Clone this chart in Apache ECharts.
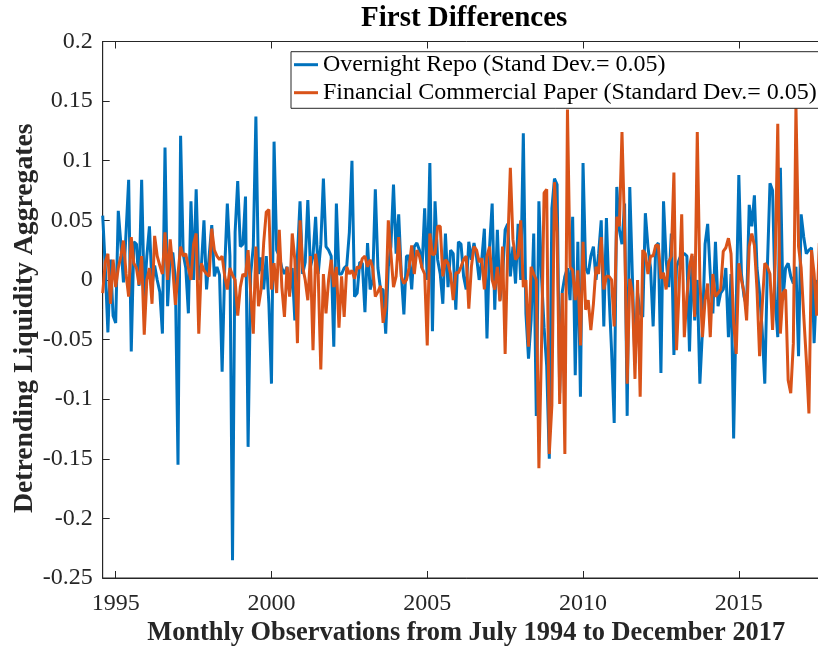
<!DOCTYPE html>
<html><head><meta charset="utf-8">
<script src="https://cdn.jsdelivr.net/npm/echarts@6/dist/echarts.min.js"></script>
<style>html,body{margin:0;padding:0;background:#fff;overflow:hidden;width:818px;height:649px}#c{width:832px;height:649px}</style>
</head><body><div id="c"></div><script>
// Monthly first differences, Aug 1994 .. Dec 2017
const startYear = 1994, startMonth = 8;
const endYear = 2017, endMonth = 12;
const xTickLabels = ['1995', '2000', '2005', '2010', '2015'];
const yTicks = [-0.25, -0.2, -0.15, -0.1, -0.05, 0, 0.05, 0.1, 0.15, 0.2];
const seriesNames = ['Overnight Repo (Stand Dev.= 0.05)', 'Financial Commercial Paper (Standard Dev.= 0.05)'];

const repo = [
 0.054, 0.010, -0.044, 0.017, -0.030, -0.036, 0.058, 0.030, -0.002, 0.040,
 0.084, -0.060, 0.032, 0.030, -0.005, 0.084, -0.014, 0.020, 0.045, -0.005,
 0.012, 0.000, -0.010, -0.045, 0.111, -0.022, 0.020, 0.023, 0.000, -0.155,
 0.121, 0.022, 0.010, -0.028, 0.066, 0.000, 0.076, 0.000, 0.011, 0.050,
 -0.008, 0.020, 0.046, 0.003, 0.011, 0.004, -0.077, 0.010, 0.064, 0.020,
 -0.235, 0.040, 0.083, 0.028, 0.030, 0.070, -0.140, 0.005, 0.028, 0.137,
 0.005, 0.019, -0.008, 0.020, -0.020, -0.087, 0.116, 0.025, 0.020, 0.010,
 0.005, 0.011, -0.011, 0.010, -0.034, 0.020, 0.066, 0.005, 0.015, 0.067,
 0.011, 0.020, 0.053, 0.005, 0.030, 0.085, 0.028, 0.025, 0.020, -0.056,
 0.064, 0.005, 0.005, 0.010, 0.012, 0.040, 0.100, -0.014, -0.011, 0.015,
 0.014, -0.027, 0.031, -0.008, 0.000, 0.076, 0.010, -0.008, -0.008, -0.045,
 0.011, 0.028, 0.080, 0.022, 0.055, 0.005, -0.029, 0.020, 0.020, -0.008,
 0.028, 0.031, 0.025, 0.010, 0.060, 0.000, 0.098, -0.043, 0.066, 0.017,
 0.005, -0.020, 0.039, -0.006, 0.025, 0.022, -0.025, 0.032, 0.030, 0.003,
 -0.008, 0.032, 0.017, 0.031, 0.019, 0.000, 0.017, 0.043, -0.049, 0.028,
 0.064, -0.025, 0.042, -0.017, 0.003, 0.042, 0.047, 0.003, 0.028, -0.003,
 0.047, 0.000, 0.123, -0.028, -0.066, -0.034, 0.039, -0.114, 0.066, 0.003,
 -0.040, -0.072, -0.150, 0.060, 0.085, 0.080, -0.095, -0.010, 0.003, 0.010,
 -0.017, 0.053, -0.080, 0.032, -0.098, 0.098, 0.010, 0.005, 0.020, 0.028,
 0.000, 0.022, 0.050, -0.039, 0.052, -0.011, -0.060, -0.120, 0.078, 0.042,
 0.030, 0.064, -0.114, 0.078, 0.003, -0.070, -0.011, -0.028, -0.031, 0.056,
 0.028, 0.010, -0.039, 0.028, 0.031, -0.078, 0.066, 0.017, -0.006, 0.039,
 -0.063, 0.011, 0.017, 0.022, 0.022, 0.020, -0.060, 0.020, -0.034, 0.000,
 -0.087, -0.042, 0.030, 0.047, 0.005, -0.028, 0.032, -0.022, -0.011, -0.008,
 0.010, -0.048, 0.005, -0.133, -0.022, 0.088, 0.005, -0.014, -0.022, 0.063,
 0.045, 0.071, 0.010, -0.011, -0.042, -0.087, 0.011, 0.081, 0.075, -0.017,
 -0.048, 0.094, -0.017, 0.010, 0.014, 0.003, -0.003, 0.011, -0.064, 0.055,
 0.036, 0.022, 0.025, 0.027, -0.053, 0.000, -0.030, 0.045, -0.020, 0.015, -0.010
];

const fcp = [
 -0.011, 0.015, 0.022, -0.020, 0.017, -0.006, 0.010, 0.020, 0.033, 0.005,
 -0.014, 0.036, 0.014, 0.010, -0.004, 0.020, -0.046, 0.000, 0.010, -0.020,
 0.037, 0.020, 0.012, 0.005, 0.040, 0.000, 0.034, 0.010, -0.021, 0.005,
 0.028, 0.020, 0.022, 0.010, 0.000, 0.030, 0.039, -0.045, 0.014, 0.008,
 0.005, 0.003, 0.043, 0.025, 0.020, 0.017, 0.020, 0.003, -0.008, 0.010,
 0.004, 0.000, -0.030, -0.006, 0.005, 0.003, 0.025, -0.011, -0.045, 0.028,
 -0.022, -0.008, 0.031, 0.057, 0.059, -0.008, 0.014, -0.011, 0.042, -0.006,
 -0.031, 0.011, -0.014, 0.039, 0.017, -0.053, 0.050, 0.011, 0.000, -0.017,
 0.020, -0.059, 0.022, 0.005, -0.075, 0.005, -0.028, 0.000, 0.017, -0.006,
 0.011, -0.040, 0.003, -0.031, 0.011, 0.005, 0.008, 0.001, 0.011, 0.010,
 0.018, 0.020, 0.011, 0.017, 0.010, -0.014, -0.010, -0.005, -0.036, -0.022,
 0.050, 0.022, -0.006, 0.003, 0.036, 0.003, -0.003, 0.000, 0.010, 0.029,
 0.005, 0.025, 0.020, 0.010, 0.005, -0.055, 0.039, 0.021, 0.022, 0.045,
 0.045, 0.003, 0.017, 0.014, 0.005, -0.017, 0.006, 0.006, 0.011, 0.017,
 0.020, -0.024, 0.011, 0.028, 0.025, 0.015, 0.018, -0.008, 0.020, 0.028,
 0.000, -0.008, 0.011, -0.018, 0.028, -0.062, 0.028, 0.094, 0.034, 0.017,
 0.020, 0.050, -0.006, 0.000, -0.056, 0.011, 0.005, 0.000, -0.158, -0.056,
 0.073, 0.076, -0.146, -0.105, 0.082, 0.040, -0.104, -0.011, -0.146, 0.143,
 0.011, 0.008, -0.017, 0.008, -0.055, 0.032, -0.025, -0.017, -0.042, -0.020,
 0.011, 0.005, 0.036, -0.008, 0.003, 0.003, 0.000, -0.039, 0.053, 0.045,
 0.124, 0.043, -0.087, 0.001, -0.011, -0.083, 0.000, -0.098, 0.025, 0.022,
 0.005, 0.020, 0.020, 0.029, 0.029, 0.001, 0.006, -0.008, 0.015, 0.020,
 0.090, -0.059, -0.008, 0.055, -0.048, -0.014, 0.011, 0.022, -0.031, 0.124,
 0.000, -0.048, -0.017, -0.003, -0.048, 0.005, -0.014, -0.011, -0.008, 0.024,
 0.027, 0.035, 0.022, -0.036, -0.062, 0.014, 0.000, -0.010, -0.034, 0.028,
 0.039, 0.029, -0.008, -0.064, -0.022, 0.014, 0.011, 0.005, -0.042, 0.014,
 0.131, -0.045, -0.011, -0.008, -0.084, -0.095, -0.053, 0.146, 0.028, 0.010,
 -0.030, -0.067, -0.112, 0.025, 0.005, -0.030, 0.031, -0.010, 0.020, -0.005, 0.010
];

const monthTime = i => startYear + (startMonth - 1 + i) / 12;
const toPoints = arr => arr.map((v, i) => [monthTime(i), v]);
const xMin = startYear + (startMonth - 1) / 12;
const xMax = endYear + (endMonth - 1) / 12;

const FONT = "'Liberation Serif', 'Times New Roman', serif";
const AX = '#262626';

const chart = echarts.init(document.getElementById('c'), null, { renderer: 'canvas' });
chart.setOption({
  animation: false,
  backgroundColor: '#ffffff',
  title: {
    text: 'First Differences',
    left: 361, top: 4, padding: 0,
    textStyle: { fontFamily: FONT, fontSize: 29, fontWeight: 'bold', color: '#000' }
  },
  legend: {
    orient: 'vertical',
    left: 291, top: 51.7,
    padding: [0, 4, 2.6, 3],
    itemGap: 2,
    itemWidth: 24, itemHeight: 3,
    itemTextGap: 2,
    icon: 'rect',
    backgroundColor: '#ffffff',
    borderColor: AX, borderWidth: 1,
    textStyle: { fontFamily: FONT, fontSize: 24, color: '#000', lineHeight: 26 },
    data: seriesNames
  },
  grid: { show: true, borderColor: AX, borderWidth: 1, backgroundColor: 'transparent',
    left: 102.7, top: 41.5, width: 727, height: 536.5, containLabel: false, outerBoundsMode: 'none' },
  xAxis: [{
    type: 'value', position: 'bottom', min: xMin, max: xMax,
    axisLine: { show: true, onZero: false, lineStyle: { color: AX, width: 1 } },
    axisTick: { show: true, inside: true, length: 7, lineStyle: { color: AX } },
    axisLabel: {
      show: true, margin: 14, fontFamily: FONT, fontSize: 24, color: AX,
      formatter: v => {
        const r = Math.round(v);
        return (Math.abs(v - r) < 1e-6 && xTickLabels.indexOf(String(r)) >= 0) ? String(r) : '';
      }
    },
    splitLine: { show: false },
    name: 'Monthly Observations from July 1994 to December 2017',
    nameLocation: 'middle', nameGap: 42, nameMoveOverlap: false,
    nameTextStyle: { fontFamily: FONT, fontSize: 26.4, fontWeight: 'bold', color: AX }
  }, {
    type: 'value', position: 'top', min: xMin, max: xMax,
    axisLine: { show: false, onZero: false },
    axisTick: { show: true, inside: true, length: 7, lineStyle: { color: AX } },
    axisLabel: { show: false },
    splitLine: { show: false }
  }],
  yAxis: {
    type: 'value', min: yTicks[0], max: yTicks[yTicks.length - 1], interval: 0.05,
    axisLine: { show: true, onZero: false, lineStyle: { color: AX, width: 1 } },
    axisTick: { show: true, inside: true, length: 7, lineStyle: { color: AX } },
    axisLabel: { margin: 10, fontFamily: FONT, fontSize: 24, color: AX,
      formatter: v => String(Math.round(v * 100) / 100) },
    splitLine: { show: false },
    name: 'Detrending Liquidity Aggregates',
    nameLocation: 'middle', nameGap: 64, nameMoveOverlap: false,
    nameTextStyle: { fontFamily: FONT, fontSize: 27.7, fontWeight: 'bold', color: AX, padding: [0, 17, 0, 0] }
  },
  series: [{
    name: seriesNames[0], type: 'line', data: toPoints(repo),
    showSymbol: false, symbol: 'none', clip: true,
    color: '#0072BD', lineStyle: { width: 3, color: '#0072BD' }, z: 2
  }, {
    name: seriesNames[1], type: 'line', data: toPoints(fcp),
    showSymbol: false, symbol: 'none', clip: true,
    color: '#D95319', lineStyle: { width: 3, color: '#D95319' }, z: 3
  }]
});
</script></body></html>
